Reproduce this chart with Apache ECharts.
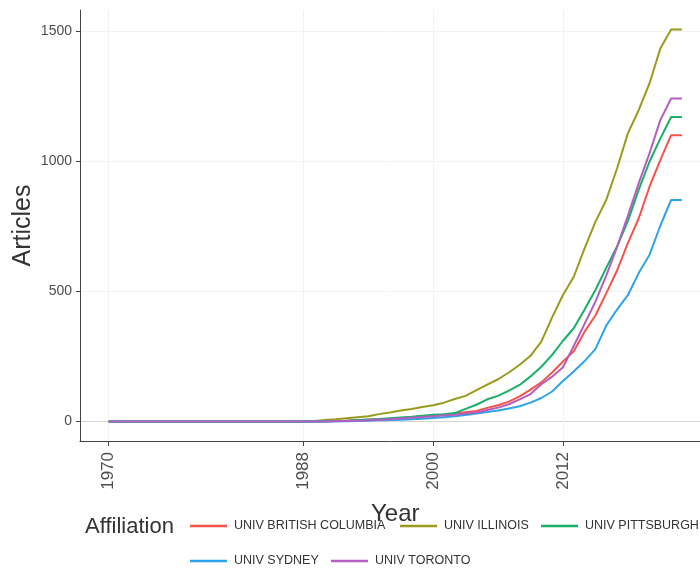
<!DOCTYPE html>
<html>
<head>
<meta charset="utf-8">
<script src="https://cdn.jsdelivr.net/npm/echarts@6/dist/echarts.min.js"></script>
<style>
html,body{margin:0;padding:0;background:#fff;}
#chart{width:700px;height:572px;}
</style>
</head>
<body>
<div id="chart"></div>
<script>
// Years 1970..2023
const years = [];
for (let y = 1970; y <= 2023; y++) years.push(y);
const early = [0,0,0,0,0,0,0,0,0,0,0,0,0,0,0,0,0,0,0]; // 1970-1988

const affiliations = ['UNIV BRITISH COLUMBIA','UNIV ILLINOIS','UNIV PITTSBURGH','UNIV SYDNEY','UNIV TORONTO'];

// cumulative articles 1989..2023
const britishColumbia = [0,1,2,3,4,6,8,10,13,16,19,22,26,30,35,40,52,62,76,96,122,150,188,230,270,345,407,492,580,685,780,902,1004,1100,1100];
const illinois = [2,5,8,12,16,20,28,34,42,48,55,62,72,86,98,120,141,162,188,218,252,307,400,486,556,665,767,851,972,1107,1196,1299,1433,1506,1506];
const pittsburgh = [0,1,2,3,5,7,9,12,15,18,22,26,28,32,48,64,85,98,118,140,173,210,256,310,358,430,505,590,672,770,890,998,1087,1170,1170];
const sydney = [0,0,1,1,2,3,4,5,6,8,10,13,16,20,25,30,36,42,50,58,72,90,115,155,192,232,278,368,430,485,570,640,752,851,851];
const toronto = [0,0,1,2,3,4,6,8,11,14,17,20,23,26,30,34,44,53,66,85,105,143,172,208,290,375,460,560,670,790,915,1030,1158,1241,1241];

const seriesValues = [britishColumbia, illinois, pittsburgh, sydney, toronto];
const colors = ['#F4544A','#9A9A1E','#17B068','#2EA3E8','#B45EC2'];

const xTicks = [1970,1988,2000,2012];
const yTicks = [0,500,1000,1500];

const chart = echarts.init(document.getElementById('chart'), null, {renderer:'canvas'});

const series = affiliations.map((name, i) => ({
  name: name,
  type: 'line',
  showSymbol: false,
  symbol: 'none',
  color: colors[i],
  lineStyle: {width: 2, color: colors[i]},
  data: years.map((y, k) => [y, early.concat(seriesValues[i])[k]])
}));

const legendPos = [
  {left: 190, top: 519},
  {left: 400, top: 519},
  {left: 541, top: 519},
  {left: 190, top: 554},
  {left: 331, top: 554}
];

const legends = affiliations.map((name, i) => ({
  data: [name],
  left: legendPos[i].left,
  top: legendPos[i].top,
  padding: 0,
  icon: 'rect',
  itemWidth: 37,
  itemHeight: 2.5,
  selectedMode: false,
  textStyle: {fontFamily: 'Liberation Sans, Arial, sans-serif', fontSize: 12.5, color: '#333', lineHeight: 14, padding: [0,0,0,2]}
}));

const option = {
  animation: false,
  backgroundColor: '#fff',
  grid: {left: 80, top: 10, width: 630.6, height: 431, containLabel: false, outerBoundsMode: 'none'},
  xAxis: {
    type: 'value',
    min: 1967.35,
    max: 2025.65,
    name: 'Year',
    nameLocation: 'middle',
    nameGap: 61,
    nameMoveOverlap: false,
    nameTextStyle: {fontFamily: 'Liberation Sans, Arial, sans-serif', fontSize: 24, color: '#333'},
    axisLine: {show: true, onZero: false, lineStyle: {color: '#444', width: 1}},
    axisTick: {show: true, length: 5, customValues: xTicks, lineStyle: {color: '#444'}},
    axisLabel: {customValues: xTicks, formatter: v => String(v), rotate: 90, margin: 11, fontFamily: 'Liberation Sans, Arial, sans-serif', fontSize: 17, color: '#4d4d4d'},
    splitLine: {show: true, lineStyle: {color: '#f2f2f2', width: 1}}
  },
  yAxis: {
    type: 'value',
    min: -75.3,
    max: 1581.3,
    name: 'Articles',
    nameLocation: 'middle',
    nameGap: 44,
    nameMoveOverlap: false,
    nameTextStyle: {fontFamily: 'Liberation Sans, Arial, sans-serif', fontSize: 25, color: '#333'},
    axisLine: {show: true, onZero: false, lineStyle: {color: '#444', width: 1}},
    axisTick: {show: true, length: 4, customValues: yTicks, lineStyle: {color: '#444'}},
    axisLabel: {customValues: yTicks, formatter: v => String(v), margin: 8, fontFamily: 'Liberation Sans, Arial, sans-serif', fontSize: 14, color: '#4d4d4d'},
    splitLine: {show: true, lineStyle: {color: ['#d4d4d4','#f2f2f2','#f2f2f2','#f2f2f2'], width: 1}}
  },
  legend: legends,
  graphic: [{
    type: 'text',
    left: 85,
    top: 516,
    style: {text: 'Affiliation', fontFamily: 'Liberation Sans, Arial, sans-serif', fontSize: 22, fill: '#333'}
  }],
  series: series
};

chart.setOption(option);
</script>
</body>
</html>
